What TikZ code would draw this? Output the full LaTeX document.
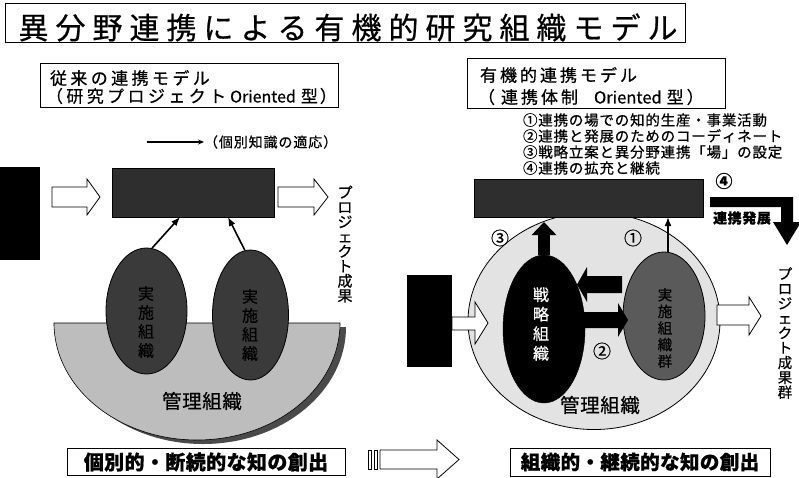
\documentclass[tikz,border=0pt]{standalone}
\usepackage{fontspec}
\newfontfamily\jp{Noto Sans CJK JP}[FakeBold=0.6]
\usetikzlibrary{arrows.meta,shapes.geometric,calc}
\newcommand\spr[2]{\def\sprsep{\hspace{#1}}\sprfirst#2\relax}
\def\sprfirst#1{#1\sprnext}
\def\sprnext#1{\ifx#1\relax\else\sprsep#1\expandafter\sprnext\fi}
\newcommand\fsz[2]{\fontsize{#1}{#2}\selectfont}
\definecolor{darkbox}{HTML}{2E2E2E}
\definecolor{ellL}{HTML}{3A3A3A}
\definecolor{bowl}{HTML}{BDBDBD}
\definecolor{bowlsh}{HTML}{4A4A4A}
\definecolor{bigEc}{HTML}{E3E3E3}
\definecolor{ellR}{HTML}{5A5A5A}
\begin{document}
\begin{tikzpicture}[x=1pt,y=-1pt,
  txt/.style={inner sep=0pt, outer sep=0pt},
  frame/.style={draw=black, line width=0.8pt, inner sep=0pt, outer sep=0pt, rectangle},
  hollow/.style={draw=black, line width=0.8pt, fill=white, line join=miter},
  conn/.style={line width=1.6pt, -{Latex[length=9pt,width=7pt]}},
  vtxt/.style={txt, align=center},
]
\fill[white] (0,0) rectangle (799,477);
\useasboundingbox (0,0) rectangle (799,477);

% title
\node[frame, anchor=north west, minimum width=680pt, minimum height=39pt] (title) at (5,3) {};
\node[txt, font={\jp\fsz{30}{32}}] (titleT) at (348,27.5) {\spr{7pt}{異分野連携による有機的研究組織モデル}};

% ---------- left model ----------
\node[frame, anchor=north west, minimum width=298pt, minimum height=44pt] (lsub) at (40,63) {};
\node[txt, anchor=west, font={\jp\fsz{17}{20}}] (lsub1) at (50,78) {\spr{3.4pt}{従来の連携モデル}};
\node[txt, anchor=west, font={\jp\fsz{17}{20}}] (lsub2) at (46,96) {\spr{3.4pt}{（研究プロジェクト}\hspace{4pt}{\fsz{16}{16}Oriented}\hspace{5pt}\spr{2pt}{型）}};

\coordinate (legA) at (147,142);
\node[txt, anchor=west, font={\jp\fsz{14}{14}}] (legT) at (204,142) {\spr{0.9pt}{（個別知識の適応）}};
\draw[line width=1.4pt, -{Stealth[length=6pt,width=5pt]}] (legA) -- (legT.west);

\node[fill=black, inner sep=0pt, anchor=north west, minimum width=40pt, minimum height=93pt] (lblk) at (0,167) {};
\draw[hollow] (52,187) -- (87,187) -- (87,179) -- (100,197) -- (87,215) -- (87,207) -- (52,207) -- cycle;
\node[frame, fill=darkbox, anchor=north west, minimum width=162pt, minimum height=49pt] (lrect) at (112,168) {};
\draw[hollow] (278,187) -- (314,187) -- (314,179) -- (328,197) -- (314,215) -- (314,207) -- (278,207) -- cycle;
\node[vtxt, font={\jp\fsz{15}{14.75}\lineskiplimit=-50pt}] (lvt) at (345,244) {プ\\ロ\\ジ\\ェ\\ク\\ト\\成\\果};

% bowl
\fill[bowlsh] (346,327) arc[start angle=0,end angle=-180,x radius=143pt,y radius=117pt] -- cycle;
\filldraw[fill=bowl, draw=black, line width=0.6pt] (340,323) arc[start angle=0,end angle=-180,x radius=143pt,y radius=117pt] -- cycle;

\node[ellipse, draw=black, line width=0.8pt, fill=ellL, minimum width=81pt, minimum height=126pt, inner sep=0pt] (e1) at (146.5,311) {};
\node[ellipse, draw=black, line width=0.8pt, fill=ellL, minimum width=76pt, minimum height=130pt, inner sep=0pt] (e2) at (250.5,315) {};
\node[vtxt, text=black, font={\jp\fsz{16}{19}\lineskiplimit=-50pt}] (e1t) at (146,322) {実\\施\\組\\織};
\node[vtxt, text=black, font={\jp\fsz{16}{19}\lineskiplimit=-50pt}] (e2t) at (250,325) {実\\施\\組\\織};
\draw[conn] (e1.85) -- ($(lrect.south west)!0.42!(lrect.south east)$);
\draw[conn] (e2.95) -- ($(lrect.south west)!0.716!(lrect.south east)$);
\node[txt, font={\jp\fsz{19.5}{20}}] (lkanri) at (202,401) {\spr{0.6pt}{管理組織}};

\node[frame, anchor=north west, minimum width=278pt, minimum height=27pt] (lbot) at (67,448) {};
\node[txt, font={\jp\bfseries\fsz{20}{20}}] (lbotT) at (206,462) {\spr{0.4pt}{個別的・断続的な知の創出}};

% middle striped arrow
\draw[hollow] (368,450) rectangle (371,469);
\draw[hollow] (374,450) rectangle (377,469);
\draw[hollow] (380,450) -- (437,450) -- (437,440) -- (459,459.5) -- (437,479) -- (437,469) -- (380,469) -- cycle;

% ---------- right model ----------
\node[frame, anchor=north west, minimum width=258pt, minimum height=50pt] (rsub) at (467,58) {};
\node[txt, anchor=west, font={\jp\fsz{17}{20}}] (rsub1) at (480,75) {\spr{3pt}{有機的連携モデル}};
\node[txt, anchor=west, font={\jp\fsz{17}{20}}] (rsub2) at (478,97) {\spr{3pt}{（}\hspace{6pt}\spr{3pt}{連携体制}\hspace{16pt}{\fsz{16.5}{16}Oriented}\hspace{5pt}\spr{3pt}{型）}};

\node[txt, anchor=west, font={\jp\fsz{14.5}{16}}] (l1) at (523,120) {\spr{0.8pt}{①連携の場での知的生産・事業活動}};
\node[txt, anchor=west, font={\jp\fsz{14.5}{16}}] (l2) at (523,136) {\spr{0.8pt}{②連携と発展のためのコーディネート}};
\node[txt, anchor=west, font={\jp\fsz{14.5}{16}}] (l3) at (523,152) {\spr{0.8pt}{③戦略立案と異分野連携「場」の設定}};
\node[txt, anchor=west, font={\jp\fsz{14.5}{16}}] (l4) at (523,168) {\spr{0.8pt}{④連携の拡充と継続}};

\node[ellipse, draw=black, line width=0.8pt, fill=bigEc, minimum width=252pt, minimum height=217pt, inner sep=0pt] (bigE) at (594,321) {};
\node[frame, fill=darkbox, anchor=north west, minimum width=229pt, minimum height=38pt] (rrect) at (474,179) {};
\node[txt, font={\jp\bfseries\fsz{17}{17}}] (n4) at (724,181) {④};
\fill[black] (710,197) -- (793,197) -- (793,222) -- (801,222) -- (787,245) -- (773,222) -- (781,222) -- (781,207) -- (710,207) -- cycle;
\node[txt, font={\jp\bfseries\fsz{14}{14}}] (hatten) at (742,218) {\spr{0.6pt}{連携発展}};

\node[fill=black, inner sep=0pt, anchor=north west, minimum width=45pt, minimum height=92pt] (rblk) at (407,275) {};
\draw[hollow] (452,317) -- (475,317) -- (475,302) -- (488,323) -- (475,344) -- (475,330) -- (452,330) -- cycle;

\node[ellipse, fill=black, draw=black, minimum width=82pt, minimum height=148pt, inner sep=0pt] (bE) at (544,329) {};
\node[vtxt, text=white, font={\jp\fsz{16}{19.5}\lineskiplimit=-50pt}] (bEt) at (541,324) {戦\\略\\組\\織};
\node[ellipse, fill=ellR, draw=black, line width=0.8pt, minimum width=82pt, minimum height=128pt, inner sep=0pt] (gE) at (664,316) {};
\node[vtxt, text=black, font={\jp\fsz{14.5}{16.6}\lineskiplimit=-50pt}] (gEt) at (665,328) {実\\施\\組\\織\\群};

\fill[black] (622,276) -- (587,276) -- (587,267) -- (577,284.5) -- (587,302) -- (587,293) -- (622,293) -- cycle;
\fill[black] (583,312) -- (618,312) -- (618,303) -- (628,320) -- (618,337) -- (618,328) -- (583,328) -- cycle;

\node[txt, font={\jp\fsz{18}{18}}] (n2) at (602,351) {②};
\node[txt, font={\jp\fsz{18}{18}}] (n3) at (500,238) {③};
\node[txt, font={\jp\fsz{18}{18}}] (n1) at (633,238) {①};

\draw[line width=12pt, -{Triangle[width=24pt,length=13pt]}, shorten >=5pt] (bE.north) -- (bE.north |- rrect.south);
\coordinate (gtop) at ([xshift=4pt]gE.north);
\draw[conn] (gtop) -- (gtop |- rrect.south);

\draw[hollow] (717,305) -- (749,305) -- (749,297) -- (761,316) -- (749,335) -- (749,325) -- (717,325) -- cycle;
\node[vtxt, font={\jp\fsz{14.5}{14.8}\lineskiplimit=-50pt}] (rvt) at (785,333) {プ\\ロ\\ジ\\ェ\\ク\\ト\\成\\果\\群};
\node[txt, font={\jp\fsz{19.5}{20}}] (rkanri) at (600,405) {\spr{0.6pt}{管理組織}};

\node[frame, anchor=north west, minimum width=260pt, minimum height=28pt] (rbot) at (510,448) {};
\node[txt, font={\jp\bfseries\fsz{19.5}{20}}] (rbotT) at (640,462) {\spr{0.4pt}{組織的・継続的な知の創出}};
\end{tikzpicture}
\end{document}
